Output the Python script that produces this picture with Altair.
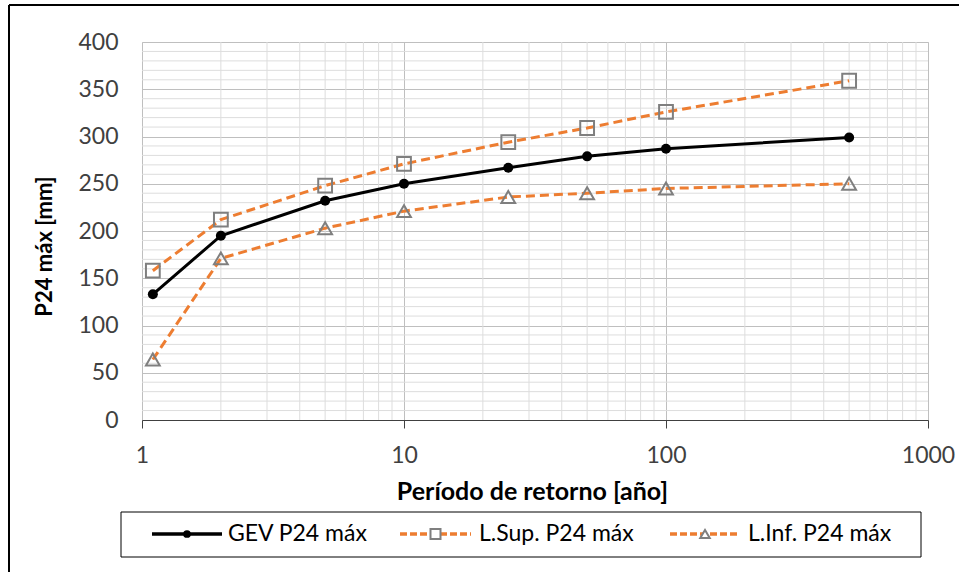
import altair as alt
import pandas as pd

# Return periods (years) and 24-h maximum rainfall (mm)
periods = [1.1, 2, 5, 10, 25, 50, 100, 500]
gev = [133, 195, 232, 250, 267, 279, 287, 299]
upper = [158, 212, 248, 271, 294, 309, 326, 359]
lower = [64, 171, 203, 221, 236, 240, 245, 250]

series_names = ["GEV P24 máx", "L.Sup. P24 máx", "L.Inf. P24 máx"]

x_major = [1, 10, 100, 1000]
x_minor = [m * d for d in (1, 10, 100) for m in range(2, 10)]
y_major = list(range(0, 401, 50))
y_minor = [v for v in range(10, 400, 10) if v % 50]

W, H = 786, 378
ORANGE = "#ED7D31"
GRAY = "#7F7F7F"
FONT = "Lato"
FS = 23

df = pd.DataFrame({"T": periods, "gev": gev, "sup": upper, "inf": lower})

xs = alt.Scale(type="log", domain=[1, 1000], nice=False)
ys = alt.Scale(domain=[0, 400], nice=False)

x_enc = alt.X(
    "T:Q", scale=xs,
    axis=alt.Axis(values=x_major, format="d", title="Período de retorno [año]",
                  grid=True, gridColor="#BFBFBF", gridWidth=1,
                  ticks=True, tickSize=8, tickColor="#404040", tickWidth=1,
                  domainColor="#404040", domainWidth=1.2,
                  labelFont=FONT, labelFontSize=FS, labelColor="#404040",
                  labelBaseline="middle", labelPadding=27, labelFlush=False,
                  labelOverlap=False,
                  titleFont=FONT, titleFontSize=25, titleFontWeight="bold",
                  titleColor="#000000", titleX=390, titleY=71,
                  titleBaseline="middle", titleAlign="center"),
)
y_axis = alt.Axis(values=y_major, title="P24 máx [mm]",
                  grid=True, gridColor="#BFBFBF", gridWidth=1,
                  ticks=False, domain=False,
                  labelFont=FONT, labelFontSize=FS, labelColor="#404040",
                  labelPadding=24, labelFlush=False, labelOverlap=False,
                  titleFont=FONT, titleFontSize=22, titleFontWeight="bold",
                  titleColor="#000000", titleAngle=270, titleX=-98, titleY=204,
                  titleBaseline="middle", titleAlign="center")

# minor grid lines
xminor = alt.Chart(pd.DataFrame({"T": x_minor})).mark_rule(
    color="#DDDDDD", strokeWidth=1).encode(x=alt.X("T:Q", scale=xs))
yminor = alt.Chart(pd.DataFrame({"v": y_minor})).mark_rule(
    color="#DDDDDD", strokeWidth=1).encode(y=alt.Y("v:Q", scale=ys))

base = alt.Chart(df)

gev_line = base.mark_line(color="#000000", strokeWidth=3).encode(
    x=x_enc, y=alt.Y("gev:Q", scale=ys, axis=y_axis))
gev_pts = base.mark_point(shape="circle", filled=True, color="#000000",
                          size=100, opacity=1).encode(
    x=alt.X("T:Q", scale=xs), y=alt.Y("gev:Q", scale=ys))

sup_line = base.mark_line(color=ORANGE, strokeWidth=3, strokeDash=[9, 5]).encode(
    x=alt.X("T:Q", scale=xs), y=alt.Y("sup:Q", scale=ys))
sup_pts = base.mark_point(shape="square", filled=False, color=GRAY,
                          strokeWidth=2, size=190, opacity=1).encode(
    x=alt.X("T:Q", scale=xs), y=alt.Y("sup:Q", scale=ys))

inf_line = base.mark_line(color=ORANGE, strokeWidth=3, strokeDash=[9, 5]).encode(
    x=alt.X("T:Q", scale=xs), y=alt.Y("inf:Q", scale=ys))
inf_pts = base.mark_point(shape="triangle-up", filled=False, color=GRAY,
                          strokeWidth=2, size=190, opacity=1).encode(
    x=alt.X("T:Q", scale=xs), y=alt.Y("inf:Q", scale=ys))

# legend drawn below the plot
one = pd.DataFrame({"k": [0]})
LEG_Y = 492
legend_layers = [
    alt.Chart(one).mark_rect(fill="white", stroke="#000000", strokeWidth=1).encode(
        x=alt.value(-21), x2=alt.value(779), y=alt.value(470), y2=alt.value(515)),
]
leg_line_x = [(10, 80), (258, 329), (528, 598)]
leg_mark = [("circle", True, "#000000", 60), ("square", False, GRAY, 100),
            ("triangle-up", False, GRAY, 90)]
leg_line_style = [("#000000", None), (ORANGE, [7, 3]), (ORANGE, [7, 3])]
leg_text_x = [86, 337, 606]
for i, name in enumerate(series_names):
    x0, x1 = leg_line_x[i]
    col, dash = leg_line_style[i]
    rule_kw = dict(color=col, strokeWidth=3.5)
    if dash:
        rule_kw["strokeDash"] = dash
    legend_layers.append(alt.Chart(one).mark_rule(**rule_kw).encode(
        x=alt.value(x0), x2=alt.value(x1), y=alt.value(LEG_Y)))
    shp, fil, mcol, msz = leg_mark[i]
    legend_layers.append(alt.Chart(one).mark_point(
        shape=shp, filled=fil, color=mcol, size=msz, strokeWidth=2, opacity=1,
        fill="white" if not fil else mcol).encode(
        x=alt.value((x0 + x1) / 2), y=alt.value(LEG_Y)))
    legend_layers.append(alt.Chart(pd.DataFrame({"label": [name]})).mark_text(
        font=FONT, fontSize=FS, color="#000000", align="left",
        baseline="middle").encode(
        x=alt.value(leg_text_x[i]), y=alt.value(LEG_Y), text="label:N"))

# outer frame around the figure
frame = [
    alt.Chart(one).mark_rule(color="#000000", strokeWidth=2).encode(
        x=alt.value(-133), x2=alt.value(820), y=alt.value(-37)),
    alt.Chart(one).mark_rule(color="#000000", strokeWidth=2).encode(
        x=alt.value(-133), y=alt.value(-37), y2=alt.value(535)),
]

chart = alt.layer(
    xminor, yminor, gev_line, sup_line, inf_line, gev_pts, sup_pts, inf_pts,
    *legend_layers, *frame
).properties(
    width=W, height=H,
    autosize=alt.AutoSizeParams(type="none"),
    padding={"left": 142, "top": 42, "right": 31, "bottom": 152},
).configure_view(
    stroke="#595959", strokeWidth=1.5
).configure(background="white")

chart.save("out.html", embed_options={"renderer": "svg", "actions": False})
